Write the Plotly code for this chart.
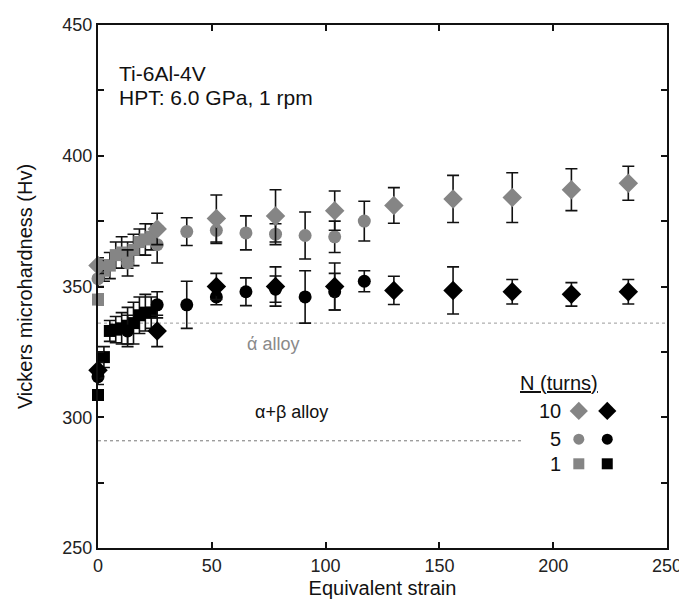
import plotly.graph_objects as go

# ---------------- data ----------------
# equivalent strain positions for each number of turns
strain_10 = [0, 26, 52, 78, 104, 130, 156, 182, 208, 233]
strain_5 = [0, 13, 26, 39, 52, 65, 78, 91, 104, 117]
strain_1 = [0, 2.6, 5.2, 7.8, 10.4, 13, 15.6, 18.2, 20.8, 23.4]

# grey series
hv_10_grey = [358, 372, 376, 377, 379, 381, 383.5, 384, 387, 389.5]
err_10_grey = [3, 6, 9, 10, 7.5, 6.8, 9, 9.5, 8, 6.5]
hv_5_grey = [353, 359, 366, 371, 371.5, 370.5, 370, 369.5, 369, 375]
err_5_grey = [3, 5, 7, 5.3, 5, 6.5, 4, 9, 6, 7.6]
hv_1_grey = [345, 356, 358, 362, 363, 362, 364, 367, 368, 369]
err_1_grey = [2, 4, 5, 5, 6, 5, 6, 5, 6, 5]

# black series
hv_10_black = [318, 333, 350, 350, 350, 348.5, 348.5, 348, 347, 348]
err_10_black = [3, 6, 5, 7.5, 9, 5.4, 9, 4.7, 4.5, 4.7]
hv_5_black = [315.5, 333, 343, 343, 346, 348, 349, 346, 348, 352]
err_5_black = [3, 6, 5, 9, 3, 5.3, 5, 10, 7, 4]
hv_1_black = [308.5, 323, 333, 333.5, 334, 335, 336, 339, 340, 340]
err_1_black = [2, 4, 4, 5, 6, 7, 8, 7, 7, 6]

# reference levels (initial hardness)
alpha_prime_level = 336
alpha_prime_span = [0, 250]
alpha_beta_level = 291
alpha_beta_span = [0, 186]

turn_labels = ["10", "5", "1"]

# ---------------- styles ----------------
GREY = "#858585"
BLACK = "#000000"
FONT = "Liberation Sans, Arial, sans-serif"

fig = go.Figure()

# dashed reference lines
fig.add_trace(go.Scatter(x=alpha_prime_span, y=[alpha_prime_level] * 2, mode="lines",
                         line=dict(color="#9a9a9a", width=1, dash="3px,3px"),
                         hoverinfo="skip", showlegend=False))
fig.add_trace(go.Scatter(x=alpha_beta_span, y=[alpha_beta_level] * 2, mode="lines",
                         line=dict(color="#777777", width=1, dash="3px,3px"),
                         hoverinfo="skip", showlegend=False))

series = [
    (strain_1, hv_1_grey, err_1_grey, "square", GREY, 12),
    (strain_1, hv_1_black, err_1_black, "square", BLACK, 12),
    (strain_5, hv_5_grey, err_5_grey, "circle", GREY, 13),
    (strain_5, hv_5_black, err_5_black, "circle", BLACK, 13),
    (strain_10, hv_10_grey, err_10_grey, "diamond", GREY, 15),
    (strain_10, hv_10_black, err_10_black, "diamond", BLACK, 15),
]
for xs, ys, es, sym, col, size in series:
    fig.add_trace(go.Scatter(
        x=xs, y=ys, mode="markers", cliponaxis=False,
        marker=dict(symbol=sym, color=col, size=size, line=dict(width=0)),
        error_y=dict(type="data", array=es, visible=True, color="#111111",
                     thickness=1.6, width=6),
        showlegend=False))

# custom legend markers on an overlay axis (fractional positions)
leg_rows = [0.262, 0.208, 0.161]
leg_cols = [0.845, 0.895]
leg_syms = ["diamond", "circle", "square"]
leg_sizes = [14, 11, 11]
for ry, sym, sz in zip(leg_rows, leg_syms, leg_sizes):
    fig.add_trace(go.Scatter(
        x=leg_cols, y=[ry, ry], xaxis="x2", yaxis="y2", mode="markers",
        marker=dict(symbol=sym, size=sz, color=[GREY, BLACK], line=dict(width=0)),
        hoverinfo="skip", showlegend=False, cliponaxis=False))

axis_common = dict(
    showline=True, linecolor="#111111", linewidth=2, mirror="allticks",
    ticks="inside", ticklen=6, tickwidth=1.5, tickcolor="#111111",
    showgrid=False, zeroline=False, automargin=False,
    tickfont=dict(family=FONT, size=18, color="#222222"),
)

fig.update_layout(
    width=687, height=607,
    margin=dict(l=90, r=28, t=17, b=67),
    paper_bgcolor="white", plot_bgcolor="white",
    font=dict(family=FONT, size=18, color="#111111"),
    xaxis=dict(range=[0, 250], dtick=50, tick0=0,
               title=dict(text="Equivalent strain", font=dict(family=FONT, size=20, color="#111111"),
                          standoff=6),
               **axis_common),
    yaxis=dict(range=[250, 450], dtick=50, tick0=250,
               minor=dict(dtick=25, ticks="inside", ticklen=6, tickcolor="#111111"),
               title=dict(text="Vickers microhardness (Hv)", font=dict(family=FONT, size=20, color="#111111"),
                          standoff=24),
               **axis_common),
    xaxis2=dict(range=[0, 1], overlaying="x", visible=False, fixedrange=True),
    yaxis2=dict(range=[0, 1], overlaying="y", visible=False, fixedrange=True),
    showlegend=False,
)

annotations = [
    dict(x=0.034, y=0.908, xref="paper", yref="paper", text="Ti-6Al-4V", showarrow=False,
         xanchor="left", yanchor="middle", font=dict(family=FONT, size=21, color="#111111")),
    dict(x=0.034, y=0.862, xref="paper", yref="paper", text="HPT: 6.0 GPa, 1 rpm", showarrow=False,
         xanchor="left", yanchor="middle", font=dict(family=FONT, size=21, color="#111111")),
    dict(x=77, y=328, xref="x", yref="y", text="ά alloy", showarrow=False,
         xanchor="center", font=dict(family=FONT, size=18, color="#8a8a8a")),
    dict(x=85, y=302, xref="x", yref="y", text="α+β alloy", showarrow=False,
         xanchor="center", font=dict(family=FONT, size=18, color="#111111")),
    dict(x=0.81, y=0.3155, xref="paper", yref="paper", text="<u>N (turns)</u>", showarrow=False,
         xanchor="center", yanchor="middle", font=dict(family=FONT, size=20, color="#111111")),
]
for lab, ry in zip(turn_labels, leg_rows):
    annotations.append(dict(x=0.818, y=ry, xref="paper", yref="paper", text=lab,
                            showarrow=False, xanchor="right", yanchor="middle",
                            font=dict(family=FONT, size=20, color="#111111")))
fig.update_layout(annotations=annotations)

fig.write_html("out.html")
